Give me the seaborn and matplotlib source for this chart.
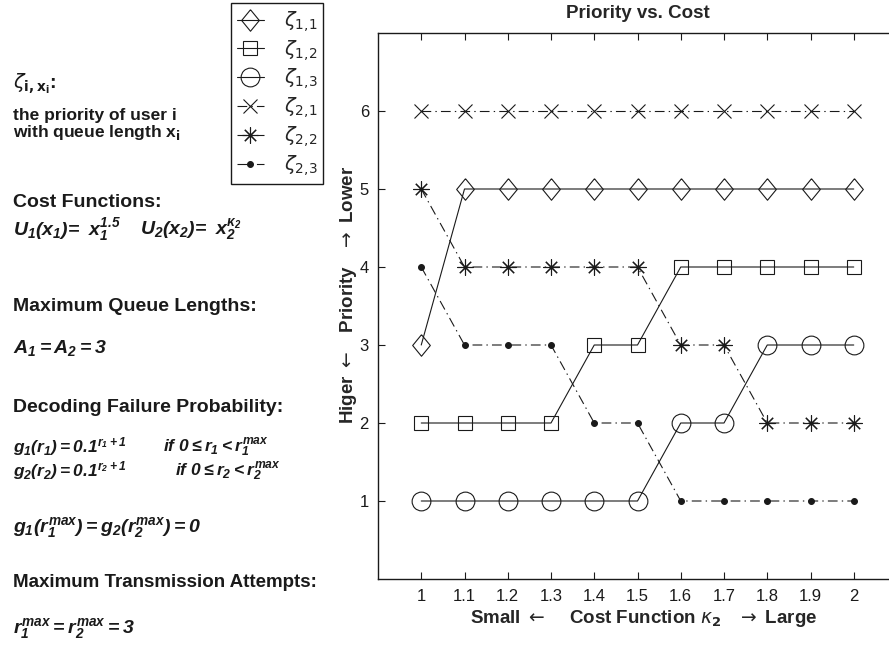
import matplotlib
matplotlib.use("Agg")
import matplotlib.pyplot as plt
import seaborn as sns

# Cost-function exponent kappa_2 along the x axis
kappa = [1.0, 1.1, 1.2, 1.3, 1.4, 1.5, 1.6, 1.7, 1.8, 1.9, 2.0]

# Priority of user i with queue length x (1 = highest)
zeta_1_1 = [3, 5, 5, 5, 5, 5, 5, 5, 5, 5, 5]
zeta_1_2 = [2, 2, 2, 2, 3, 3, 4, 4, 4, 4, 4]
zeta_1_3 = [1, 1, 1, 1, 1, 1, 2, 2, 3, 3, 3]
zeta_2_1 = [6, 6, 6, 6, 6, 6, 6, 6, 6, 6, 6]
zeta_2_2 = [5, 4, 4, 4, 4, 4, 3, 3, 2, 2, 2]
zeta_2_3 = [4, 3, 3, 3, 2, 2, 1, 1, 1, 1, 1]

series_labels = [r"$\zeta_{1,\!1}$", r"$\zeta_{1,\!2}$", r"$\zeta_{1,\!3}$",
                 r"$\zeta_{2,\!1}$", r"$\zeta_{2,\!2}$", r"$\zeta_{2,\!3}$"]
x_ticks = [1, 1.1, 1.2, 1.3, 1.4, 1.5, 1.6, 1.7, 1.8, 1.9, 2]
x_tick_labels = ["1", "1.1", "1.2", "1.3", "1.4", "1.5", "1.6", "1.7", "1.8", "1.9", "2"]
y_ticks = [1, 2, 3, 4, 5, 6]

sns.set_theme(style="ticks")
plt.rcParams["font.family"] = ["Liberation Sans", "DejaVu Sans"]
plt.rcParams["mathtext.fontset"] = "dejavusans"
plt.rcParams["mathtext.rm"] = "Liberation Sans:italic:bold"
plt.rcParams["mathtext.it"] = "Liberation Sans:italic:bold"
plt.rcParams["mathtext.bf"] = "Liberation Sans:italic:bold"
plt.rcParams["lines.scale_dashes"] = False

W, H = 889, 648
fig = plt.figure(figsize=(W / 100, H / 100), dpi=100)
fig.patch.set_facecolor("white")

ax = fig.add_axes([378 / W, 1 - 579 / H, (897 - 378) / W, (579 - 33) / H])
ax.set_facecolor("white")

dashdot = (0, (7, 3, 1, 3))
diamond = [(0, 1), (0.82, 0), (0, -1), (-0.82, 0), (0, 1)]
lw = 0.8

styles = [
    dict(y=zeta_1_1, marker=diamond, ms=15.5, ls="-", mfc="none"),
    dict(y=zeta_1_2, marker="s", ms=10.5, ls="-", mfc="none"),
    dict(y=zeta_1_3, marker="o", ms=13.5, ls="-", mfc="none"),
    dict(y=zeta_2_1, marker="x", ms=10, ls=dashdot, mfc="none"),
    dict(y=zeta_2_2, marker=(8, 2, 0), ms=11.5, ls=dashdot, mfc="none"),
    dict(y=zeta_2_3, marker="o", ms=4.2, ls=dashdot, mfc="k"),
]

for st, lab in zip(styles, series_labels):
    sns.lineplot(x=kappa, y=st["y"], ax=ax, color="k", linewidth=lw,
                 linestyle=st["ls"], marker=st["marker"], markersize=st["ms"],
                 markerfacecolor=st["mfc"], markeredgecolor="k",
                 markeredgewidth=0.8, label=lab, legend=False)

ax.set_xlim(0.9, 2.1)
ax.set_ylim(0, 7)
ax.set_xticks(x_ticks)
ax.set_xticklabels(x_tick_labels)
ax.set_yticks(y_ticks)
ax.tick_params(direction="in", length=5, width=0.8, colors="k",
               labelsize=12, top=True, right=True)
ax.tick_params(axis="x", pad=7.5)
ax.tick_params(axis="y", pad=6.5)
for sp in ax.spines.values():
    sp.set_visible(True)
    sp.set_color("k")
    sp.set_linewidth(1.0)

ax.set_title("Priority vs. Cost", fontsize=13.5, fontweight="bold", pad=10.5)
xl = ax.set_xlabel(r"Small $\leftarrow$    Cost Function $\kappa_\mathbf{2}$   $\rightarrow$ Large",
                   fontsize=13.5, fontweight="bold", labelpad=2)
yl = ax.set_ylabel(r"Higer $\leftarrow$   Priority   $\rightarrow$ Lower",
                   fontsize=13.5, fontweight="bold")
xl.set_math_fontfamily("dejavusans")
yl.set_math_fontfamily("dejavusans")
ax.xaxis.set_label_coords(0.512, -0.053)
ax.yaxis.set_label_coords(-0.037, 0.52)

handles, labels = ax.get_legend_handles_labels()
leg = fig.legend(handles, labels, loc="upper left",
                 bbox_to_anchor=(231 / W, 1 - 3 / H), borderaxespad=0,
                 fontsize=14, frameon=True, fancybox=False, shadow=False,
                 handlelength=1.4, handletextpad=1.0, labelspacing=0.2,
                 borderpad=0.3, numpoints=1)
leg.get_frame().set_edgecolor("k")
leg.get_frame().set_linewidth(1.0)
leg.get_frame().set_alpha(1)


def put(x, y, s, size=14, weight="bold", math="custom"):
    t = fig.text(x / W, 1 - y / H, s, fontsize=size, fontweight=weight,
                 ha="left", va="baseline", color="k")
    t.set_math_fontfamily(math)
    return t


# Notation and model parameters
put(13, 88, r"$\zeta_{\mathbf{i,x_i}}$:", size=14, math="dejavusans")
put(13, 120, "the priority of user i", size=12.5)
put(13, 137, r"with queue length x$_\mathbf{i}$", size=12.5, math="dejavusans")

put(13, 207, "Cost Functions:", size=14)
put(13, 235, r"$U_1(x_1)\!=\ x_1^{1.5}$")
put(140, 235, r"$U_2(x_2)\!=\ x_2^{\kappa_2}$")

put(13, 311, "Maximum Queue Lengths:", size=14)
put(13, 353, r"$A_1 = A_2 = 3$")

put(13, 412, "Decoding Failure Probability:", size=14)
put(13, 452, r"$g_1(r_1) = 0.1^{r_1+1}$", size=12.5)
put(163, 452, r"$if\ 0 \leq r_1 < r_1^{max}$", size=12.5)
put(13, 476, r"$g_2(r_2) = 0.1^{r_2+1}$", size=12.5)
put(175, 476, r"$if\ 0 \leq r_2 < r_2^{max}$", size=12.5)
put(13, 532, r"$g_1(r_1^{max}) = g_2(r_2^{max}) = 0$")

put(13, 587, "Maximum Transmission Attempts:", size=13.5)
put(13, 633, r"$r_1^{max} = r_2^{max} = 3$")

fig.savefig("out.png", dpi=100, facecolor="white")
